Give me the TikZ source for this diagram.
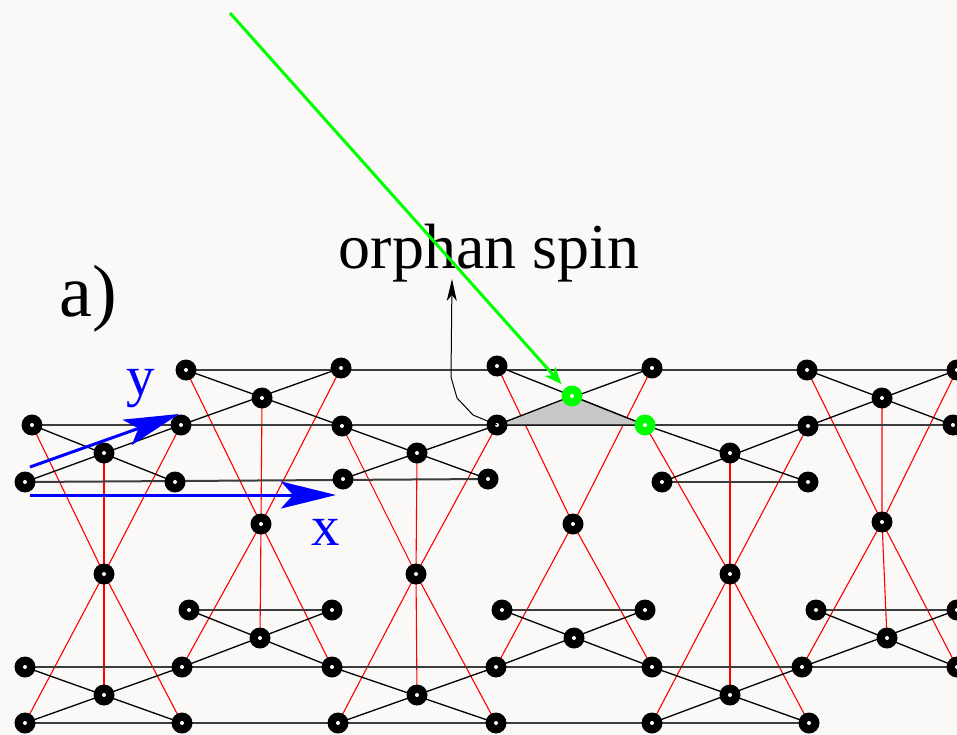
\documentclass[tikz,border=0pt]{standalone}
\usepackage{fontspec}
\setmainfont{Liberation Serif}
\usepackage{tikz}
\usetikzlibrary{arrows.meta}
\definecolor{paper}{RGB}{250,249,248}
\definecolor{chaingray}{RGB}{60,60,60}
\definecolor{spingreen}{RGB}{0,255,0}
\definecolor{trigray}{RGB}{200,200,200}
\tikzset{
  spin/.style    ={circle, fill=black, minimum size=21pt, inner sep=0pt,
                   path picture={\fill[white] (path picture bounding box.center)
                     circle (2pt);}},
  orphspin/.style={spin, fill=spingreen},
  chain/.style   ={chaingray, line width=2pt},
  bond/.style    ={black, line width=1.3pt},
  tetra/.style   ={red, line width=1.1pt},
  axisarr/.style ={blue, line width=3pt,
                   -{Stealth[length=55pt, width=27pt, inset=12pt]}},
  greenarr/.style={spingreen, line width=3pt,
                   -{Stealth[length=17pt, width=14pt, inset=5pt]}},
  orpharr/.style ={black, line width=1pt,
                   -{Stealth[length=22pt, width=10pt, inset=6pt]}},
  axlbl/.style   ={blue, font=\fontsize{57}{60}\selectfont, inner sep=0pt},
  biglbl/.style  ={font=\fontsize{64}{70}\selectfont, inner sep=0pt},
}

\begin{document}
\begin{tikzpicture}[x=1pt, y=-1pt]
  \fill[paper] (0,0) rectangle (957,735);
  \useasboundingbox (0,0) rectangle (957,735);
  % upper layer
  \foreach \n/\x/\y in {a1/186/370, a2/341/368, a3/497/366, a4/652/368,
      a5/807/370, a6/957/370, b1/262/398, b2/572/396, b3/882/398,
      c1/32/425, c2/181/425, c3/342/426, c4/497/425, c5/645/425,
      c6/808/426, c7/953/425, d1/104/453, d2/417/453, d3/730/453,
      e1/25/482, e2/175/482, e3/343/479, e4/488/479, e5/662/482,
      e6/808/482}
    \coordinate (\n) at (\x,\y);
  % middle spins
  \foreach \n/\x/\y in {f1/261/524, f2/573/524, f3/882/522,
      g1/104/574, g2/416/574, g3/730/574}
    \coordinate (\n) at (\x,\y);
  % lower layer
  \foreach \n/\x/\y in {h1/189/610, h2/332/610, h3/502/610, h4/645/610,
      h5/816/610, h6/957/610, i1/260/638, i2/574/638, i3/887/638,
      j1/25/667, j2/182/667, j3/332/667, j4/496/667, j5/652/667,
      j6/802/667, j7/957/667, k1/104/695, k2/417/695, k3/730/695,
      l1/25/723, l2/182/723, l3/338/723, l4/496/723, l5/652/723,
      l6/809/723}
    \coordinate (\n) at (\x,\y);

  % tetrahedra
  \draw[tetra] (a1) -- (f1) -- (j3);
  \draw[tetra] (a2) -- (f1) -- (j2);
  \draw[tetra] (b1) -- (f1) -- (i1);
  \draw[tetra] (a3) -- (f2) -- (j5);
  \draw[tetra] (a4) -- (f2) -- (j4);
  \draw[tetra] (a5) -- (f3) -- (j7);
  \draw[tetra] (a6) -- (f3) -- (j6);
  \draw[tetra] (b3) -- (f3) -- (i3);
  \draw[tetra] (c1) -- (g1) -- (l2);
  \draw[tetra] (c2) -- (g1) -- (l1);
  \draw[tetra] (d1) -- (g1) -- (k1);
  \draw[tetra] (c3) -- (g2) -- (l4);
  \draw[tetra] (c4) -- (g2) -- (l3);
  \draw[tetra] (d2) -- (g2) -- (k2);
  \draw[tetra] (c5) -- (g3) -- (l6);
  \draw[tetra] (c6) -- (g3) -- (l5);
  \draw[tetra] (d3) -- (g3) -- (k3);

  % chains
  \draw[chain] (a1) -- (a6);
  \draw[chain] (c1) -- (c7);
  \draw[chain] (e1) -- (e4);
  \draw[chain] (e5) -- (e6);
  \draw[chain] (h1) -- (h2);
  \draw[chain] (h3) -- (h4);
  \draw[chain] (h5) -- (h6);
  \draw[chain] (j1) -- (j7);
  \draw[chain] (l1) -- (l6);

  % bow ties
  \foreach \p/\q in {a1/c3, a2/c2, a3/c5, a4/c4, a5/c7, a6/c6,
      c1/e2, c2/e1, c3/e4, c4/e3, c5/e6, c6/e5,
      h1/j3, h2/j2, h3/j5, h4/j4, h5/j7, h6/j6,
      j1/l2, j2/l1, j3/l4, j4/l3, j5/l6, j6/l5}
    \draw[bond] (\p) -- (\q);

  \filldraw[fill=trigray, draw=black, line width=1.3pt]
    (c4) -- (b2) -- (c5) -- cycle;

  % spins
  \foreach \n in {a1,a2,a3,a4,a5,a6,b1,b3,c1,c2,c3,c4,c6,c7,d1,d2,d3,
      e1,e2,e3,e4,e5,e6,f1,f2,f3,g1,g2,g3,h1,h2,h3,h4,h5,h6,i1,i2,i3,
      j1,j2,j3,j4,j5,j6,j7,k1,k2,k3,l1,l2,l3,l4,l5,l6}
    \node[spin] at (\n) {};
  \node[orphspin] at (b2) {};
  \node[orphspin] at (c5) {};

  % labels and arrows
  \node[biglbl, anchor=base west, font=\fontsize{74}{78}\selectfont]
    (panel) at (59,316) {a)};
  \node[biglbl, anchor=base] (orphlbl) at (489,268) {orphan spin};
  \coordinate (gstart) at (230,13);
  \draw[greenarr, shorten >=16pt] (gstart) -- (b2);
  \coordinate (otip) at (452,279);
  \draw[orpharr] (c4) -- (473,415) -- (457,398) -- (451,377) -- (otip);

  \coordinate (ytail) at (30,467);
  \coordinate (yhead) at (179,414);
  \coordinate (xtail) at (30,495);
  \coordinate (xhead) at (336,495);
  \draw[axisarr] (ytail) -- (yhead);
  \draw[axisarr] (xtail) -- (xhead);
  \node[axlbl, anchor=base] (ylbl) at (141,395) {y};
  \node[axlbl, anchor=base] (xlbl) at (326,545) {x};
\end{tikzpicture}
\end{document}
